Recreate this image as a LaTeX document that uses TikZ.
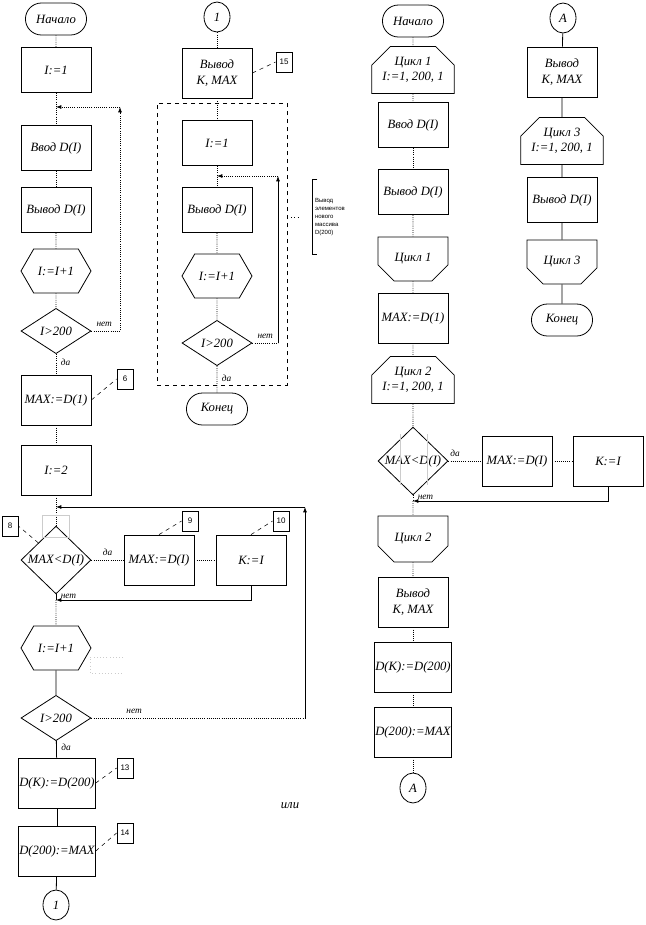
\documentclass[tikz,border=0pt]{standalone}
\usepackage{fontspec}
\setmainfont{Liberation Serif}
\setsansfont{Liberation Sans}
\usetikzlibrary{positioning,arrows.meta,shapes.geometric,shapes.misc,shapes.symbols}

\begin{document}
\begin{tikzpicture}[
  x=0.75pt, y=-0.75pt,
  line width=0.6pt,
  every node/.style={font=\itshape\fontsize{9.5}{11.5}\selectfont, align=center},
  box/.style={draw, rectangle, minimum width=52.5pt, minimum height=34pt, inner sep=0.5pt},
  tall/.style={box, minimum height=37.5pt},
  term/.style={draw, rounded rectangle, minimum width=52.5pt, minimum height=24pt},
  hexa/.style={draw, signal, signal to=east and west, signal pointer angle=120, minimum width=52.5pt, minimum height=33pt, inner sep=1pt},
  cond/.style={draw, diamond, minimum width=52.5pt, minimum height=34pt, inner sep=0pt},
  loopbeg/.style={draw, chamfered rectangle, chamfered rectangle corners={north west,north east}, chamfered rectangle xsep=7pt, chamfered rectangle ysep=7pt, minimum width=52.5pt, minimum height=33pt, inner sep=1pt},
  loopend/.style={loopbeg, chamfered rectangle corners={south west,south east}},
  conn/.style={draw, ellipse, minimum width=19.5pt, minimum height=22.5pt, inner sep=0pt},
  num/.style={draw, rectangle, minimum width=12pt, minimum height=15pt, inner sep=0pt, font=\sffamily\fontsize{6}{7}\selectfont},
  tag/.style={font=\itshape\fontsize{7}{8}\selectfont},
  dl/.style={densely dotted},
  lead/.style={dashed, line width=0.4pt},
  arr/.style={-{Latex[length=4pt,width=3pt]}},
  ghost/.style={gray!40, line width=0.4pt}
]
\useasboundingbox (0,0) rectangle (646,925);

% первый вариант
\node[term] (start1) at (56,19) {Начало};
\node[box] (a1) at (56,70) {I:=1};
\node[box] (in1) at (56,148) {Ввод D(I)};
\node[box] (out1) at (56,210) {Вывод D(I)};
\node[hexa] (inc1) at (56,271) {I:=I+1};
\node[cond] (d1) at (56,331) {I>200};
\node[tall] (m1) at (56,400) {MAX:=D(1)};
\node[tall] (a2) at (56,470) {I:=2};
\node[cond] (d2) at (56,560) {MAX<D(I)};
\node[tall] (m2) at (159,560) {MAX:=D(I)};
\node[tall] (k2) at (251,560) {K:=I};
\node[hexa] (inc2) at (56,648) {I:=I+1};
\node[cond] (d3) at (56,718) {I>200};
\node[tall] (s1) at (57,783) {D(K):=D(200)};
\node[tall] (s2) at (57,851) {D(200):=MAX};
\node[conn] (con1) at (56,905) {1};

\node[num] (n6) at (125,379) {6};
\node[num] (n8) at (10,526) {8};
\node[num] (n9) at (190,521) {9};
\node[num] (n10) at (281,521) {10};
\node[num] (n13) at (125,768) {13};
\node[num] (n14) at (125,833) {14};

\coordinate (j1) at (56,107);
\coordinate (r1a) at (120,331);
\coordinate (r1b) at (120,107);
\coordinate (j2) at (56,507);
\coordinate (r2a) at (305,718);
\coordinate (r2b) at (305,507);
\coordinate (b2) at (251,600);
\coordinate (j3) at (56,600);

\draw[dl] (start1) -- (a1);
\draw[dl] (a1) -- (in1);
\draw[dl] (in1) -- (out1);
\draw[dl] (out1) -- (inc1);
\draw[dl] (inc1) -- (d1);
\draw[dl] (d1) -- node[tag, right, pos=0.4]{да} (m1);
\draw[dl, arr] (d1.east) -- node[tag, above, pos=0.45]{нет} (r1a) -- (r1b);
\draw[dl, arr] (r1b) -- (j1);
\draw[dl] (m1) -- (a2);
\draw[dl] (a2) -- (d2);
\draw[dl] (d2) -- node[tag, above]{да} (m2);
\draw[dl] (m2) -- (k2);
\draw (d2) -- node[tag, right, pos=0.4]{нет} (j3);
\draw[arr] (k2) -- (b2) -- (j3);
\draw[dl] (j3) -- (inc2);
\draw (inc2) -- (d3);
\draw[dl] (d3.east) -- node[tag, above, pos=0.2]{нет} (r2a);
\draw[arr] (r2a) -- (r2b);
\draw[arr] (r2b) -- (j2);
\draw (d3) -- node[tag, right, pos=0.4]{да} (s1);
\draw (s1) -- (s2);
\draw (s2) -- (con1);

\draw[lead] (m1.east) -- (n6.west);
\draw[lead] (d2.north west) -- (n8.east);
\draw[lead] (m2.north) -- (n9.west);
\draw[lead] (k2.north) -- (n10.west);
\draw[lead] (s1.east) -- (n13.west);
\draw[lead] (s2.east) -- (n14.west);

% следы выделения
\draw[ghost] (42,515) rectangle (69,537);
\draw[ghost, dotted] (123,657) -- (90,657) -- (90,673) -- (123,673);

\node (ili) at (290,806) {или};

% вывод нового массива
\node[conn] (con2) at (217,17) {1};
\node[tall] (o2) at (217,73) {Вывод\\K, MAX};
\node[num] (n15) at (284,62) {15};
\node[draw, dashed, minimum width=97.5pt, minimum height=211.5pt] (frame) at (222,244) {};
\node[box] (a3) at (217,143) {I:=1};
\node[box] (out3) at (217,210) {Вывод D(I)};
\node[hexa] (inc3) at (217,276) {I:=I+1};
\node[cond] (d4) at (217,343) {I>200};
\node[term] (end2) at (217,409) {Конец};
\node[anchor=west, minimum height=56pt, inner sep=2pt, align=left, font=\sffamily\fontsize{4.5}{6}\selectfont] (note) at (312,217) {Вывод\\элементов\\нового\\массива\\D(200)};

\coordinate (j4) at (217,176);
\coordinate (r4a) at (278,343);
\coordinate (r4b) at (278,176);

\draw[dl] (con2) -- (o2);
\draw[dl] (o2) -- (a3);
\draw[dl] (a3) -- (out3);
\draw[dl] (out3) -- (inc3);
\draw[dl] (inc3) -- (d4);
\draw[dl] (d4) -- node[tag, right, pos=0.45]{да} (end2);
\draw[dl] (d4.east) -- node[tag, above, pos=0.5]{нет} (r4a);
\draw[arr] (r4a) -- (r4b);
\draw[dl, arr] (r4b) -- (j4);
\draw[lead] (o2.east) -- (n15.west);
\draw ([xshift=4pt]note.north west) -- (note.north west) -- (note.south west) -- ([xshift=4pt]note.south west);
\draw[dotted] (frame.east |- note.west) -- ([xshift=-9pt]note.west);

% второй вариант
\node[term] (start3) at (413,21) {Начало};
\node[loopbeg] (c1) at (413,70) {Цикл 1\\I:=1, 200, 1};
\node[box] (in3) at (413,125) {Ввод D(I)};
\node[box] (out4) at (413,192) {Вывод D(I)};
\node[loopend] (c1e) at (413,259) {Цикл 1};
\node[tall] (m3) at (413,318) {MAX:=D(1)};
\node[loopbeg] (c2) at (413,380) {Цикл 2\\I:=1, 200, 1};
\node[cond, minimum height=36pt] (d5) at (413,461) {MAX<D(I)};
\node[tall] (m4) at (517,461) {MAX:=D(I)};
\node[tall] (k3) at (608,461) {K:=I};
\node[loopend, minimum height=34.5pt] (c2e) at (413,539) {Цикл 2};
\node[tall] (o4) at (413,602) {Вывод\\K, MAX};
\node[tall] (s3) at (413,667) {D(K):=D(200)};
\node[tall] (s4) at (413,732) {D(200):=MAX};
\node[conn] (conA) at (413,788) {A};

\coordinate (b3) at (608,501);
\coordinate (j5) at (413,501);

\draw[dl] (start3) -- (c1);
\draw[dl] (c1) -- (in3);
\draw[dl] (in3) -- (out4);
\draw[dl] (out4) -- (c1e);
\draw[dl] (c1e) -- (m3);
\draw[dl] (m3) -- (c2);
\draw[dl] (c2) -- (d5);
\draw[dl] (d5) -- node[tag, above, pos=0.2]{да} (m4);
\draw[dl] (m4) -- (k3);
\draw[dl] (d5) -- node[tag, right, pos=0.3]{нет} (j5);
\draw[arr] (k3) -- (b3) -- (j5);
\draw[dl] (j5) -- (c2e);
\draw[dl] (c2e) -- (o4);
\draw[dl] (o4) -- (s3);
\draw[dl] (s3) -- (s4);
\draw[dl] (s4) -- (conA);
\draw[ghost] (400,434) -- (400,485);
\draw[ghost] (427,434) -- (427,485);

\node[conn] (conA2) at (563,18) {A};
\node[tall] (o5) at (562,72) {Вывод\\K, MAX};
\node[loopbeg] (c3) at (562,141) {Цикл 3\\I:=1, 200, 1};
\node[box] (out5) at (562,200) {Вывод D(I)};
\node[loopend] (c3e) at (562,262) {Цикл 3};
\node[term] (end3) at (562,320) {Конец};

\draw (conA2) -- (o5);
\draw (o5) -- (c3);
\draw (c3) -- (out5);
\draw (out5) -- (c3e);
\draw (c3e) -- (end3);
\end{tikzpicture}
\end{document}
